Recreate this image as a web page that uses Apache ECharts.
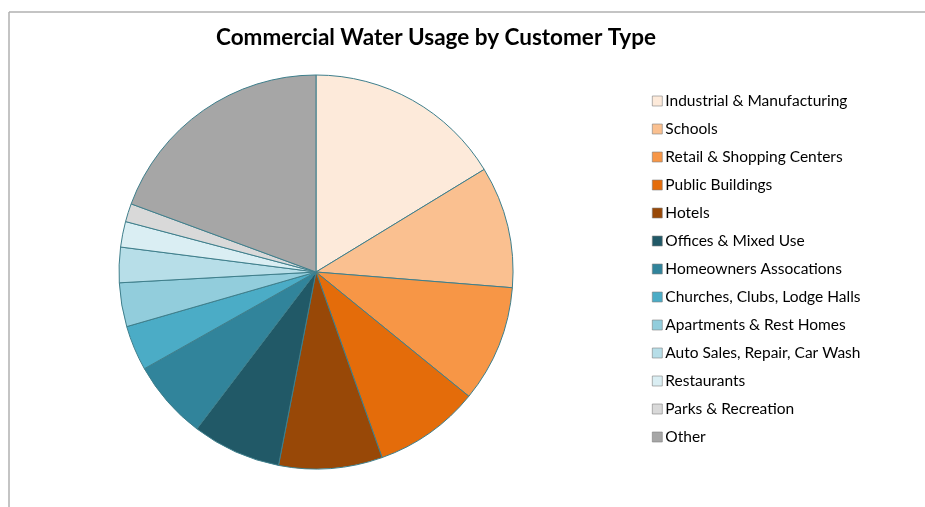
<!DOCTYPE html>
<html>
<head>
<meta charset="utf-8">
<script src="https://cdn.jsdelivr.net/npm/echarts@6/dist/echarts.min.js"></script>
<style>
html,body{margin:0;padding:0;background:#fff;}
#chart{width:925px;height:507px;}
</style>
</head>
<body>
<div id="chart"></div>
<script>
var categories = ["Industrial & Manufacturing","Schools","Retail & Shopping Centers","Public Buildings","Hotels","Offices & Mixed Use","Homeowners Assocations","Churches, Clubs, Lodge Halls","Apartments & Rest Homes","Auto Sales, Repair, Car Wash","Restaurants","Parks & Recreation","Other"];
var values = [16.3, 10.0, 9.6, 8.7, 8.5, 7.3, 6.5, 3.7, 3.6, 2.9, 2.1, 1.5, 19.4];
var colors = ["#FDEADA","#FAC090","#F79646","#E46C0A","#984807","#215967","#31849B","#4BACC6","#92CDDC","#B7DEE8","#DAEEF3","#D9D9D9","#A6A6A6"];

var chart = echarts.init(document.getElementById('chart'), null, {renderer:'canvas'});
var data = categories.map(function(c,i){return {name:c, value:values[i], itemStyle:{color:colors[i]}};});
chart.setOption({
  animation:false,
  backgroundColor:'#ffffff',
  title:{
    text:'Commercial Water Usage by Customer Type',
    left:431, top:21, textAlign:'center',
    textStyle:{fontFamily:'Lato', fontWeight:'bold', fontSize:22.5, color:'#000'}
  },
  legend:{
    orient:'vertical', left:647, top:88,
    itemWidth:10, itemHeight:10, itemGap:12,
    icon:'rect',
    itemStyle:{borderColor:'#7f7f7f', borderWidth:0.6},
    textStyle:{fontFamily:'Lato', fontSize:15.5, color:'#000', lineHeight:16, padding:[0,0,0,-2]},
    data:categories
  },
  graphic:[
    {type:'line', shape:{x1:9,y1:12,x2:925,y2:12}, style:{stroke:'#b0b0b0', lineWidth:1.5}},
    {type:'line', shape:{x1:9,y1:12,x2:9,y2:507}, style:{stroke:'#b0b0b0', lineWidth:1.5}}
  ],
  series:[{
    type:'pie',
    center:[316,272],
    radius:197,
    startAngle:90,
    clockwise:true,
    label:{show:false},
    labelLine:{show:false},
    emphasis:{disabled:true},
    itemStyle:{borderColor:'#3f7f8c', borderWidth:1},
    data:data
  }]
});
</script>
</body>
</html>
